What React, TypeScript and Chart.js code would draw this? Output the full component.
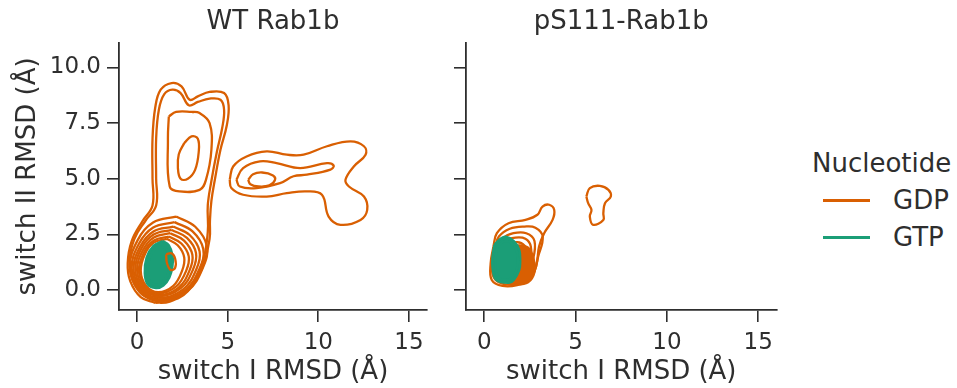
import React, { useEffect, useRef } from "react";
import { Chart, registerables } from "chart.js";
Chart.register(...registerables);

type Pt = [number, number];

// ---- labels / ticks ----
const PANEL_TITLES = ["WT Rab1b", "pS111-Rab1b"];
const X_LABEL = "switch I RMSD (Å)";
const Y_LABEL = "switch II RMSD (Å)";
const LEGEND_TITLE = "Nucleotide";
const NUCLEOTIDES = ["GDP", "GTP"];
const X_TICKS = [0, 5, 10, 15];
const Y_TICKS = [0, 2.5, 5, 7.5, 10];
const X_RANGE: Pt = [-1, 16];
const Y_RANGE: Pt = [-0.9, 11.1];

// ---- WT Rab1b, GDP contour lines (x, y in Å) ----
const WT_GDP_OUTER: Pt[] = [[1.0,-0.58],[0.2,-0.32],[-0.38,0.4],[-0.52,1.2],[-0.3,2.2],[0.3,3.1],[0.85,3.8],[0.85,5.0],[0.85,6.8],[1.0,8.2],[1.3,9.0],[1.9,9.3],[2.45,9.15],[2.9,8.55],[3.35,8.7],[4.0,8.9],[4.8,8.85],[5.05,8.3],[4.95,7.4],[4.6,6.3],[4.3,5.0],[4.1,4.0],[4.02,3.1],[4.0,2.3],[3.6,1.0],[2.8,-0.05],[1.8,-0.52]];
const WT_GDP_SECOND: Pt[] = [[1.1,-0.5],[0.3,-0.22],[-0.25,0.45],[-0.42,1.3],[-0.15,2.3],[0.45,3.1],[1.05,3.8],[1.05,5.0],[1.05,6.8],[1.2,8.1],[1.5,8.8],[1.95,9.0],[2.4,8.85],[2.85,8.3],[3.35,8.45],[4.0,8.6],[4.6,8.55],[4.8,8.1],[4.7,7.3],[4.4,6.2],[4.1,4.9],[3.9,3.8],[3.9,2.6],[3.6,1.2],[2.9,0.15],[1.9,-0.42]];
const WT_GDP_TOWER3: Pt[] = [[1.75,7.8],[2.15,8.0],[3.0,8.0],[3.45,7.95],[4.0,7.5],[4.1,6.3],[3.8,4.95],[3.45,4.5],[2.35,4.43],[1.8,4.65],[1.7,6.8]];
const WT_GDP_TOWER4: Pt[] = [[2.6,6.6],[3.0,6.9],[3.35,6.8],[3.4,6.2],[3.2,5.4],[2.8,5.0],[2.4,5.0],[2.25,5.5],[2.3,6.1]];
const WT_GDP_FISH1: Pt[] = [[5.11,4.95],[5.3,5.55],[6.04,6.0],[7.15,6.23],[8.26,6.08],[9.19,6.08],[10.48,6.46],[11.78,6.68],[12.52,6.46],[12.61,6.08],[11.96,5.55],[11.5,4.95],[11.69,4.65],[12.52,4.2],[12.7,3.6],[12.33,3.15],[11.22,2.93],[10.57,3.3],[10.2,4.28],[9.37,4.43],[8.26,4.35],[7.15,4.2],[5.85,4.28],[5.2,4.58]];
const WT_GDP_FISH2: Pt[] = [[5.48,4.95],[5.85,5.48],[6.78,5.78],[7.7,5.7],[9.0,5.48],[10.48,5.7],[10.85,5.59],[10.67,5.41],[9.37,5.18],[8.63,5.11],[7.89,4.8],[6.59,4.58],[5.67,4.65]];
const WT_GDP_FISH3: Pt[] = [[6.13,4.95],[6.4,5.2],[6.9,5.28],[7.5,5.15],[7.61,4.95],[7.3,4.7],[6.7,4.65],[6.25,4.75]];
const WT_GDP_BLOB1: Pt[] = [[2.15,3.3],[3.21,2.84],[3.85,1.97],[3.64,1.02],[2.79,-0.04],[1.3,-0.5],[0.11,-0.04],[-0.4,1.02],[0.03,2.24],[0.88,3.03]];
const WT_GDP_BLOB2: Pt[] = [[2.07,3.05],[3.06,2.63],[3.65,1.84],[3.45,0.97],[2.66,0.0],[1.28,-0.42],[0.17,0.0],[-0.3,0.97],[0.1,2.08],[0.89,2.81]];
const WT_GDP_BLOB3: Pt[] = [[1.99,2.85],[2.9,2.47],[3.45,1.73],[3.27,0.93],[2.54,0.03],[1.26,-0.35],[0.24,0.03],[-0.2,0.93],[0.17,1.95],[0.9,2.63]];
const WT_GDP_BLOB4: Pt[] = [[1.91,2.7],[2.75,2.34],[3.25,1.66],[3.08,0.91],[2.41,0.08],[1.24,-0.28],[0.3,0.08],[-0.1,0.91],[0.24,1.87],[0.91,2.49]];
const WT_GDP_BLOB5: Pt[] = [[1.83,2.55],[2.59,2.22],[3.05,1.58],[2.9,0.89],[2.29,0.11],[1.22,-0.22],[0.37,0.11],[0.0,0.89],[0.31,1.77],[0.92,2.36]];
const WT_GDP_BLOB6: Pt[] = [[1.75,2.4],[2.44,2.09],[2.85,1.51],[2.71,0.87],[2.16,0.16],[1.2,-0.15],[0.43,0.16],[0.1,0.87],[0.38,1.69],[0.93,2.22]];
const WT_GDP_BLOB7: Pt[] = [[1.64,2.3],[2.24,2.01],[2.6,1.46],[2.48,0.86],[2.0,0.19],[1.16,-0.1],[0.49,0.19],[0.2,0.86],[0.44,1.63],[0.92,2.13]];
const WT_GDP_CORE: Pt[] = [[1.6,1.6],[1.9,1.65],[2.1,1.4],[2.1,1.0],[1.85,0.9],[1.65,1.2]];

// ---- WT Rab1b, GTP contour lines ----
const WT_GTP_OUTER: Pt[] = [[1.41,2.2],[1.75,2.02],[1.96,1.55],[1.95,1.05],[1.78,0.55],[1.45,0.2],[1.04,0.08],[0.58,0.25],[0.42,0.75],[0.52,1.45],[0.9,1.98]];
const WT_GTP_INNER: Pt[] = [[1.35,1.95],[1.65,1.8],[1.8,1.4],[1.75,0.85],[1.45,0.4],[1.0,0.25],[0.67,0.45],[0.58,0.95],[0.72,1.5],[1.0,1.85]];

// ---- pS111-Rab1b, GDP contour lines ----
const PS_GDP_OUTER: Pt[] = [[0.5,1.95],[0.69,2.55],[1.33,3.0],[2.26,3.15],[2.91,3.38],[3.19,3.75],[3.56,3.83],[3.83,3.6],[3.74,3.15],[3.28,2.55],[3.0,1.95],[2.85,1.1],[2.5,0.5],[1.8,0.22],[1.0,0.18],[0.41,0.45],[0.35,1.2]];
const PS_GDP_2: Pt[] = [[0.6,1.9],[0.8,2.4],[1.4,2.75],[2.2,2.85],[2.8,2.8],[3.2,2.4],[2.95,1.5],[2.65,0.7],[1.85,0.3],[1.0,0.28],[0.5,0.6],[0.45,1.3]];
const PS_GDP_3: Pt[] = [[0.7,1.8],[1.0,2.3],[1.6,2.55],[2.3,2.55],[2.75,2.2],[2.65,1.3],[2.3,0.6],[1.5,0.38],[0.8,0.5],[0.55,1.2]];
const PS_GDP_4: Pt[] = [[0.8,1.75],[1.15,2.2],[1.7,2.35],[2.25,2.3],[2.55,1.95],[2.5,1.2],[2.15,0.65],[1.5,0.45],[0.9,0.6],[0.65,1.2]];
const PS_GDP_5: Pt[] = [[0.9,1.7],[1.3,2.05],[1.8,2.15],[2.2,2.0],[2.4,1.6],[2.35,1.0],[2.0,0.65],[1.45,0.55],[1.0,0.7],[0.8,1.2]];
const PS_GDP_6: Pt[] = [[1.0,1.6],[1.4,1.9],[1.9,1.95],[2.2,1.7],[2.25,1.1],[2.0,0.75],[1.45,0.65],[1.05,0.8],[0.9,1.2]];
const PS_GDP_CORE: Pt[] = [[1.2,1.8],[1.8,2.0],[2.4,1.9],[2.7,1.4],[2.75,0.8],[2.4,0.35],[1.7,0.25],[1.2,0.4],[1.0,1.0]];
const PS_GDP_ISLAND: Pt[] = [[5.59,4.2],[5.78,4.58],[6.33,4.68],[6.8,4.5],[6.93,4.2],[6.61,3.9],[6.52,3.45],[6.52,3.15],[5.96,2.93],[5.78,3.3],[5.87,3.6],[5.69,3.9]];

// ---- pS111-Rab1b, GTP contour lines ----
const PS_GTP_OUTER: Pt[] = [[0.55,2.03],[0.88,2.3],[1.18,2.4],[1.62,2.2],[1.92,1.8],[1.97,1.3],[1.92,0.9],[1.62,0.45],[1.35,0.32],[0.65,0.45],[0.45,1.0],[0.45,1.5]];
const PS_GTP_INNER: Pt[] = [[0.7,1.9],[1.12,2.2],[1.57,2.05],[1.82,1.6],[1.77,0.9],[1.42,0.5],[0.82,0.55],[0.6,1.1]];

const GDP_COLOR = "#d95f02";
const GTP_COLOR = "#1b9e77";
const FONT = "DejaVu Sans";
const INK = "#2e2e2e";
const LW = 2.3;

function loop(pts: Pt[], color: string, width: number, filled = false) {
  const data = [...pts, pts[0]].map(([x, y]) => ({ x, y }));
  return {
    data,
    showLine: true,
    borderColor: color,
    backgroundColor: color,
    borderWidth: width,
    pointRadius: 0,
    pointHoverRadius: 0,
    tension: 0.4,
    fill: filled ? "shape" : false,
  };
}

const panelTitlePlugin = {
  id: "panelTitle",
  afterDraw(chart: any, _args: any, opts: any) {
    const { ctx, chartArea } = chart;
    ctx.save();
    ctx.font = `26px "${FONT}"`;
    ctx.fillStyle = INK;
    ctx.textAlign = "center";
    ctx.textBaseline = "middle";
    ctx.fillText(opts.text, (chartArea.left + chartArea.right) / 2, opts.y);
    ctx.restore();
  },
};

function makeOptions(title: string, showYLabels: boolean, yWidth: number, padRight: number) {
  return {
    animation: false,
    responsive: false,
    layout: { padding: { top: 43, right: padRight, left: 0, bottom: 0 } },
    plugins: {
      legend: { display: false },
      tooltip: { enabled: false },
      panelTitle: { text: title, y: 22 },
    },
    scales: {
      x: {
        type: "linear",
        min: X_RANGE[0],
        max: X_RANGE[1],
        afterBuildTicks: (s: any) => { s.ticks = X_TICKS.map((v) => ({ value: v })); },
        afterFit: (s: any) => { s.height = 78; },
        grid: { drawOnChartArea: false, drawTicks: true, tickLength: 12, color: INK, lineWidth: 1.6 },
        border: { display: true, color: INK, width: 1.8 },
        ticks: { font: { family: FONT, size: 23 }, color: INK, padding: 7, maxRotation: 0, autoSkip: false, callback: (v: any) => String(v) },
        title: { display: true, text: X_LABEL, font: { family: FONT, size: 26 }, color: INK, padding: { top: 0, bottom: 0 } },
      },
      y: {
        type: "linear",
        min: Y_RANGE[0],
        max: Y_RANGE[1],
        afterBuildTicks: (s: any) => { s.ticks = Y_TICKS.map((v) => ({ value: v })); },
        afterFit: (s: any) => { s.width = yWidth; },
        grid: { drawOnChartArea: false, drawTicks: true, tickLength: 12, color: INK, lineWidth: 1.6 },
        border: { display: true, color: INK, width: 1.8 },
        ticks: { font: { family: FONT, size: 23 }, color: INK, padding: 6, autoSkip: false, callback: (v: any) => (showYLabels ? Number(v).toFixed(1) : "") },
        title: { display: showYLabels, text: Y_LABEL, font: { family: FONT, size: 26 }, color: INK, padding: { top: 13, bottom: 0 } },
      },
    },
  } as any;
}

export default function App() {
  const leftRef = useRef<HTMLCanvasElement>(null);
  const rightRef = useRef<HTMLCanvasElement>(null);

  useEffect(() => {
    document.body.style.margin = "0";
    const left = new Chart(leftRef.current!, {
      type: "scatter",
      data: {
        datasets: [
          loop(WT_GDP_CORE, GDP_COLOR, LW),
          loop(WT_GTP_INNER, GTP_COLOR, LW),
          loop(WT_GTP_OUTER, GTP_COLOR, LW, true),
          loop(WT_GDP_BLOB7, GDP_COLOR, LW),
          loop(WT_GDP_BLOB6, GDP_COLOR, LW),
          loop(WT_GDP_BLOB5, GDP_COLOR, LW),
          loop(WT_GDP_BLOB4, GDP_COLOR, LW),
          loop(WT_GDP_BLOB3, GDP_COLOR, LW),
          loop(WT_GDP_BLOB2, GDP_COLOR, LW),
          loop(WT_GDP_BLOB1, GDP_COLOR, LW),
          loop(WT_GDP_TOWER4, GDP_COLOR, LW),
          loop(WT_GDP_TOWER3, GDP_COLOR, LW),
          loop(WT_GDP_SECOND, GDP_COLOR, LW),
          loop(WT_GDP_OUTER, GDP_COLOR, LW),
          loop(WT_GDP_FISH3, GDP_COLOR, LW),
          loop(WT_GDP_FISH2, GDP_COLOR, LW),
          loop(WT_GDP_FISH1, GDP_COLOR, LW),
        ] as any,
      },
      options: makeOptions(PANEL_TITLES[0], true, 119, 13),
      plugins: [panelTitlePlugin],
    });
    const right = new Chart(rightRef.current!, {
      type: "scatter",
      data: {
        datasets: [
          loop(PS_GTP_INNER, GTP_COLOR, LW),
          loop(PS_GTP_OUTER, GTP_COLOR, LW, true),
          loop(PS_GDP_CORE, GDP_COLOR, LW, true),
          loop(PS_GDP_6, GDP_COLOR, LW),
          loop(PS_GDP_5, GDP_COLOR, LW),
          loop(PS_GDP_4, GDP_COLOR, LW),
          loop(PS_GDP_3, GDP_COLOR, LW),
          loop(PS_GDP_2, GDP_COLOR, LW),
          loop(PS_GDP_OUTER, GDP_COLOR, LW),
          loop(PS_GDP_ISLAND, GDP_COLOR, LW),
        ] as any,
      },
      options: makeOptions(PANEL_TITLES[1], false, 26, 3),
      plugins: [panelTitlePlugin],
    });
    return () => {
      left.destroy();
      right.destroy();
    };
  }, []);

  const textStyle: React.CSSProperties = {
    position: "absolute",
    fontFamily: FONT,
    fontSize: 26,
    lineHeight: "30px",
    color: INK,
    whiteSpace: "nowrap",
  };

  return (
    <div style={{ position: "relative", width: 957, height: 388, background: "#fff", overflow: "hidden" }}>
      <canvas ref={leftRef} width={440} height={388} style={{ position: "absolute", left: 0, top: 0 }} />
      <canvas ref={rightRef} width={340} height={388} style={{ position: "absolute", left: 440, top: 0 }} />
      <div style={{ ...textStyle, left: 812, top: 148 }}>{LEGEND_TITLE}</div>
      {NUCLEOTIDES.map((n, i) => (
        <React.Fragment key={n}>
          <div style={{ position: "absolute", left: 823, top: 199 + i * 37, width: 47, height: 3, background: i === 0 ? GDP_COLOR : GTP_COLOR }} />
          <div style={{ ...textStyle, left: 893, top: 185 + i * 37 }}>{n}</div>
        </React.Fragment>
      ))}
    </div>
  );
}
